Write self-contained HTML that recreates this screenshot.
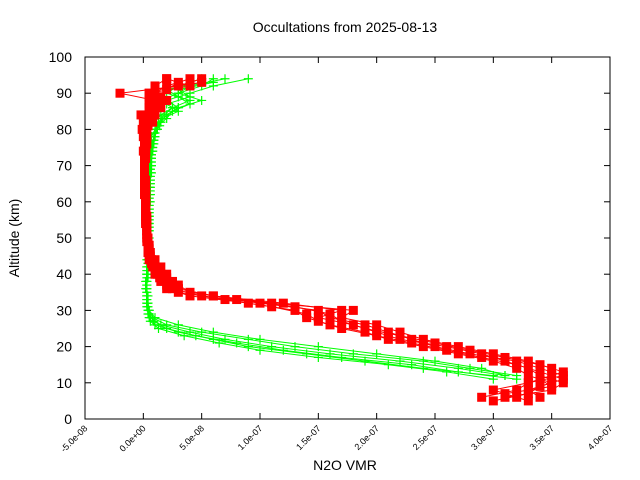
<!DOCTYPE html>
<html><head><meta charset="utf-8"><style>
body{margin:0;background:#fff}
svg{display:block;font-family:"Liberation Sans",sans-serif}
</style></head><body>
<svg id="chart" width="640" height="480">
<text x="345" y="32" font-size="14" text-anchor="middle">Occultations from 2025-08-13</text>
<text x="345" y="470" font-size="14" text-anchor="middle">N2O VMR</text>
<text x="19" y="238" font-size="14" text-anchor="middle" transform="rotate(-90 19 238)">Altitude (km)</text>
<g id="axes"></g>
<g id="plot"></g>
<rect x="85" y="57" width="525" height="362" fill="none" stroke="#000" stroke-width="1"/>
</svg>
<script>
const xTicks=[-5e-8,0,5e-8,1e-7,1.5e-7,2e-7,2.5e-7,3e-7,3.5e-7,4e-7];
const xTickLabels=["-5.0e-08","0.0e+00","5.0e-08","1.0e-07","1.5e-07","2.0e-07","2.5e-07","3.0e-07","3.5e-07","4.0e-07"];
const yTicks=[0,10,20,30,40,50,60,70,80,90,100];
const altRed=[6,8,10,12,14,16,18,20,22,24,26,28,30,32,34,36,38,40,42,44,46,48,50,52,54,56,58,60,62,64,66,68,70,72,74,76,78,80,82,84,86,88,90,92,94];
const altRedOdd=[5,7,9,11,13,15,17,19,21,23,25,27,29,31,33,35,37,39,41,43,45,47,49,51,53,55,57,59,61,63,65,67,69,71,73,75,77,79,81,83,85,87,89,91,93];
const red1=[34,33,35,33,32,30,27,24,21,19,16,14,13,9,4,2,1.5,1,0.8,0.5,0.4,0.4,0.3,0.3,0.2,0.2,0.2,0.2,0.2,0.2,0.2,0.1,0.1,0.1,0.1,0.2,0.3,0.2,0,-0.2,0.5,1,-2,3,5];
const red2=[31,35,36,34,33,31,29,26,22,20,18,15,17,12,6,3,2,1.5,1,0.7,0.5,0.4,0.4,0.3,0.3,0.3,0.2,0.2,0.2,0.2,0.1,0.1,0.1,0.2,0.2,0.1,0,-0.1,0.3,0.8,1.5,0.5,1,2,4];
const red3=[29,32,33,36,34,32,28,25,23,21,19,16,15,10,5,2.5,2,1.2,1,0.6,0.5,0.4,0.3,0.3,0.3,0.2,0.2,0.2,0.1,0.1,0.1,0.1,0.1,0.1,0.2,0.3,0.2,0.1,0.5,1,0.5,2,0.5,1,2];
const red4=[32,30,33,35,35,33,30,27,24,22,20,17,18,11,6,3,2.5,2,1.5,1,0.6,0.5,0.4,0.3,0.2,0.2,0.2,0.2,0.2,0.1,0.1,0.1,0.1,0.1,0,0.1,0.2,0.3,0.8,0.5,1,1.5,0.5,4,2];
const red5=[30,33,34,36,34,32,29,26,23,20,17,15,14,11,7,3,2,1.4,1,0.7,0.5,0.4,0.3,0.3,0.3,0.2,0.2,0.2,0.2,0.1,0.1,0.1,0.1,0.1,0.1,0.2,0.2,0.1,0.3,0.6,1,0.5,1.5,2,3];
const red6=[33,31,35,34,36,34,31,28,25,22,19,17,16,13,8,4,3,2,1.3,0.8,0.6,0.5,0.4,0.3,0.3,0.3,0.2,0.2,0.2,0.2,0.1,0.1,0.1,0.1,0.1,0.2,0.1,0.2,0.4,0.2,0.8,1.2,0.5,1,5];
const altGreen=[12,14,16,18,20,22,24,26,28,30,32,34,36,38,40,42,44,46,48,50,52,54,56,58,60,62,64,66,68,70,72,74,76,78,80,82,84,86,88,90,92,94];
const altGreenOdd=[11,13,15,17,19,21,23,25,27,29,31,33,35,37,39,41,43,45,47,49,51,53,55,57,59,61,63,65,67,69,71,73,75,77,79,81,83,85,87,89,91,93];
const green1=[31,27,22,16,11,7,4,1.5,0.6,0.4,0.3,0.3,0.3,0.3,0.4,0.4,0.4,0.4,0.4,0.4,0.4,0.4,0.5,0.5,0.5,0.5,0.5,0.5,0.5,0.5,0.6,0.6,0.7,0.7,1,1.5,2,3,2,4,6,9];
const green2=[30,24,19,14,9,6,3,1,0.5,0.4,0.3,0.3,0.2,0.2,0.3,0.3,0.3,0.4,0.4,0.4,0.4,0.4,0.4,0.5,0.5,0.5,0.5,0.6,0.6,0.6,0.6,0.7,0.8,0.9,1.2,1,1.5,2.5,4,2,3,5];
const green3=[32,28,24,18,13,9,5,2,0.8,0.5,0.4,0.3,0.3,0.3,0.3,0.4,0.4,0.4,0.4,0.5,0.5,0.5,0.5,0.5,0.5,0.6,0.6,0.6,0.6,0.7,0.7,0.8,0.8,1,1.2,1.5,2,3,5,3,4,7];
const green4=[31,29,25,20,15,10,6,3,1,0.5,0.4,0.4,0.3,0.3,0.3,0.3,0.4,0.4,0.4,0.4,0.5,0.5,0.5,0.5,0.6,0.6,0.6,0.6,0.7,0.7,0.7,0.8,0.9,1,1.1,1.3,1.8,2.5,1.5,3,5,6];
const green5=[30,26,21,15,10,6.5,3.5,1.3,0.6,0.4,0.3,0.3,0.3,0.3,0.4,0.4,0.4,0.4,0.4,0.4,0.4,0.5,0.5,0.5,0.5,0.5,0.5,0.6,0.6,0.6,0.6,0.7,0.8,0.9,1,1.2,2,2.5,4,3,2,5];
const green6=[32,27,23,17,12,8,4.5,2,0.9,0.5,0.4,0.3,0.3,0.3,0.3,0.3,0.4,0.4,0.4,0.4,0.4,0.5,0.5,0.5,0.5,0.5,0.6,0.6,0.6,0.6,0.7,0.7,0.8,0.9,1,1.4,1.6,3,2,4,3,6];
const UNIT=1e-8;

const NS="http://www.w3.org/2000/svg";
const X0=85,X1=610,Y0=419,Y1=57;
function xs(v){return X0+(v-(-5e-8))/(4.5e-7)*(X1-X0);}
function ys(a){return Y0-a/100*(Y0-Y1);}
function mk(tag,attrs,parent){const e=document.createElementNS(NS,tag);for(const k in attrs)e.setAttribute(k,attrs[k]);parent.appendChild(e);return e;}
const axes=document.getElementById('axes'),plot=document.getElementById('plot');
xTicks.forEach((t,i)=>{
  const x=xs(t);
  const l=mk('line',{x1:x,y1:Y0,x2:x,y2:Y0-6,stroke:'#000'},axes);
  
  
  const l2=mk('line',{x1:x,y1:Y1,x2:x,y2:Y1+6,stroke:'#000'},axes);
  
  
  const tx=mk('text',{x:x+3,y:Y0+10,'font-size':9,'text-anchor':'end',transform:`rotate(-45 ${x+3} ${Y0+10})`},axes);
  tx.textContent=xTickLabels[i];
  
  
});
yTicks.forEach(t=>{
  const y=ys(t);
  const l=mk('line',{x1:X0,y1:y,x2:X0+6,y2:y,stroke:'#000'},axes);
  
  
  const l2=mk('line',{x1:X1,y1:y,x2:X1-6,y2:y,stroke:'#000'},axes);
  
  
  const tx=mk('text',{x:X0-13,y:y+5,'font-size':14,'text-anchor':'end'},axes);
  tx.textContent=String(t);
  
  
});
function drawSeries(vals,alts,color,shape,name){
  const g=mk('g',{},plot);
  
  
  const pts=vals.map((v,i)=>[xs(v*UNIT),ys(alts[i])]);
  const pl=mk('polyline',{points:pts.map(p=>p.join(',')).join(' '),fill:'none',stroke:color,'stroke-width':1},g);
  
  
  pts.forEach(p=>{
    let m;
    if(shape==='square'){m=mk('rect',{x:p[0]-4.5,y:p[1]-4.5,width:9,height:9,fill:color},g);}
    else{m=mk('path',{d:`M${p[0]-4.5},${p[1]}h9M${p[0]},${p[1]-4.5}v9`,stroke:color,'stroke-width':1.2},g);}
    
    
  });
}
drawSeries(green1,altGreen,'#00ff00','plus','green-profile-1');
drawSeries(green2,altGreen,'#00ff00','plus','green-profile-2');
drawSeries(green3,altGreen,'#00ff00','plus','green-profile-3');
drawSeries(green4,altGreen,'#00ff00','plus','green-profile-4');
drawSeries(green5,altGreenOdd,'#00ff00','plus','green-profile-5');
drawSeries(green6,altGreenOdd,'#00ff00','plus','green-profile-6');
drawSeries(red1,altRed,'#ff0000','square','red-profile-1');
drawSeries(red2,altRed,'#ff0000','square','red-profile-2');
drawSeries(red3,altRed,'#ff0000','square','red-profile-3');
drawSeries(red4,altRed,'#ff0000','square','red-profile-4');
drawSeries(red5,altRedOdd,'#ff0000','square','red-profile-5');
drawSeries(red6,altRedOdd,'#ff0000','square','red-profile-6');
</script>
</body></html>
